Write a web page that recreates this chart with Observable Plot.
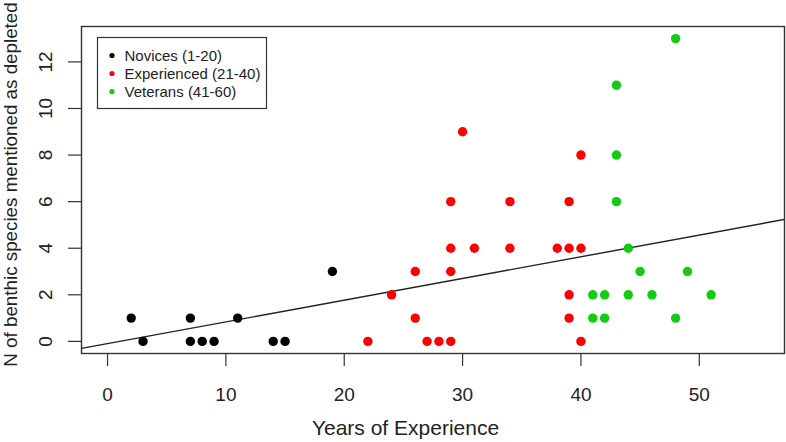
<!DOCTYPE html>
<html><head><meta charset="utf-8">
<script src="https://cdn.jsdelivr.net/npm/d3@7"></script>
<script src="https://cdn.jsdelivr.net/npm/@observablehq/plot@0.6"></script>
<style>body{margin:0;background:#fff} svg{display:block}</style>
</head><body><div id="chart"></div>
<script>
// Data
const novicesX = [2, 3, 7, 7, 8, 9, 11, 14, 15, 19];
const novicesY = [1, 0, 1, 0, 0, 0, 1, 0, 0, 3];
const experiencedX = [22, 24, 26, 26, 27, 28, 29, 29, 29, 29, 30, 31, 34, 34, 38, 39, 39, 39, 39, 40, 40, 40];
const experiencedY = [0, 2, 3, 1, 0, 0, 0, 3, 4, 6, 9, 4, 4, 6, 4, 4, 6, 2, 1, 4, 8, 0];
const veteransX = [41, 41, 42, 42, 43, 43, 43, 44, 44, 45, 46, 48, 48, 49, 51];
const veteransY = [2, 1, 2, 1, 11, 8, 6, 4, 2, 3, 2, 13, 1, 3, 2];
const groupNames = ["Novices (1-20)", "Experienced (21-40)", "Veterans (41-60)"];
const groupColors = ["#000000", "#ff0000", "#11cc11"];
const xTicks = [0, 10, 20, 30, 40, 50];
const yTicks = [0, 2, 4, 6, 8, 10, 12];
const fitCoef = [-0.095, 0.0932]; // intercept, slope of the fitted line
const xLimits = [0, 55];
const yLimits = [0, 13];
const xLabel = "Years of Experience";
const yLabel = "N of benthic species mentioned as depleted";

// R-style 4% axis expansion
const expand = ([a, b]) => [a - (b - a) * 0.04, b + (b - a) * 0.04];
const xDomain = expand(xLimits);
const yDomain = expand(yLimits);

const groups = [[novicesX, novicesY], [experiencedX, experiencedY], [veteransX, veteransY]];
const points = groups.flatMap(([xs, ys], g) => xs.map((x, i) => ({x, y: ys[i], color: groupColors[g]})));
const fitLine = xDomain.map(x => ({x, y: fitCoef[0] + fitCoef[1] * x}));

const ink = "#222";
const W = 786, H = 442, mL = 81, mR = 2, mT = 26, mB = 89;
const frameCx = (mL + W - mR) / 2, frameCy = (mT + H - mB) / 2;

const legendMarks = groupNames.flatMap((name, i) => [
  Plot.dot([name], {frameAnchor: "top-left", dx: 30.5, dy: 29 + i * 18, r: 2.6, fill: groupColors[i], stroke: "none"}),
  Plot.text([name], {frameAnchor: "top-left", dx: 43, dy: 29.5 + i * 18, text: d => d, textAnchor: "start", lineAnchor: "middle", fontSize: 15, fill: ink})
]);

const chart = Plot.plot({
  width: W, height: H,
  marginLeft: mL, marginRight: mR, marginTop: mT, marginBottom: mB,
  style: {fontFamily: "'Liberation Sans', Arial, sans-serif", background: "#fff"},
  x: {domain: xDomain, axis: null},
  y: {domain: yDomain, axis: null},
  color: {type: "identity"},
  marks: [
    Plot.axisX({ticks: xTicks, tickSize: 13, tickFormat: () => "", label: null, stroke: "#333", strokeWidth: 1.2}),
    Plot.axisY({ticks: yTicks, tickSize: 13, tickFormat: () => "", label: null, stroke: "#333", strokeWidth: 1.2}),
    Plot.text(xTicks, {x: d => d, frameAnchor: "bottom", dy: 41, text: d => String(d), textAnchor: "middle", lineAnchor: "middle", fontSize: 19, fill: ink}),
    Plot.text(yTicks, {y: d => d, frameAnchor: "left", dx: -36, rotate: -90, text: d => String(d), textAnchor: "middle", lineAnchor: "middle", fontSize: 19, fill: ink}),
    Plot.text([xLabel], {frameAnchor: "bottom", dy: 75, dx: 405 - frameCx, text: d => d, textAnchor: "middle", lineAnchor: "middle", fontSize: 21, fill: ink}),
    Plot.text([yLabel], {frameAnchor: "left", dx: -71, dy: 184 - frameCy, rotate: -90, text: d => d, textAnchor: "middle", lineAnchor: "middle", fontSize: 18.8, fill: ink}),
    Plot.line(fitLine, {x: "x", y: "y", stroke: "#222", strokeWidth: 1.4, clip: true}),
    Plot.dot(points, {x: "x", y: "y", fill: "color", r: 4.7, stroke: "none"}),
    Plot.frame({stroke: "#333", strokeWidth: 1.4}),
    Plot.frame({insetLeft: 16, insetTop: 11, insetRight: W - mR - 266, insetBottom: H - mB - 108, stroke: "#333", strokeWidth: 1.2}),
    ...legendMarks
  ]
});
document.getElementById("chart").append(chart);
</script>
</body></html>
